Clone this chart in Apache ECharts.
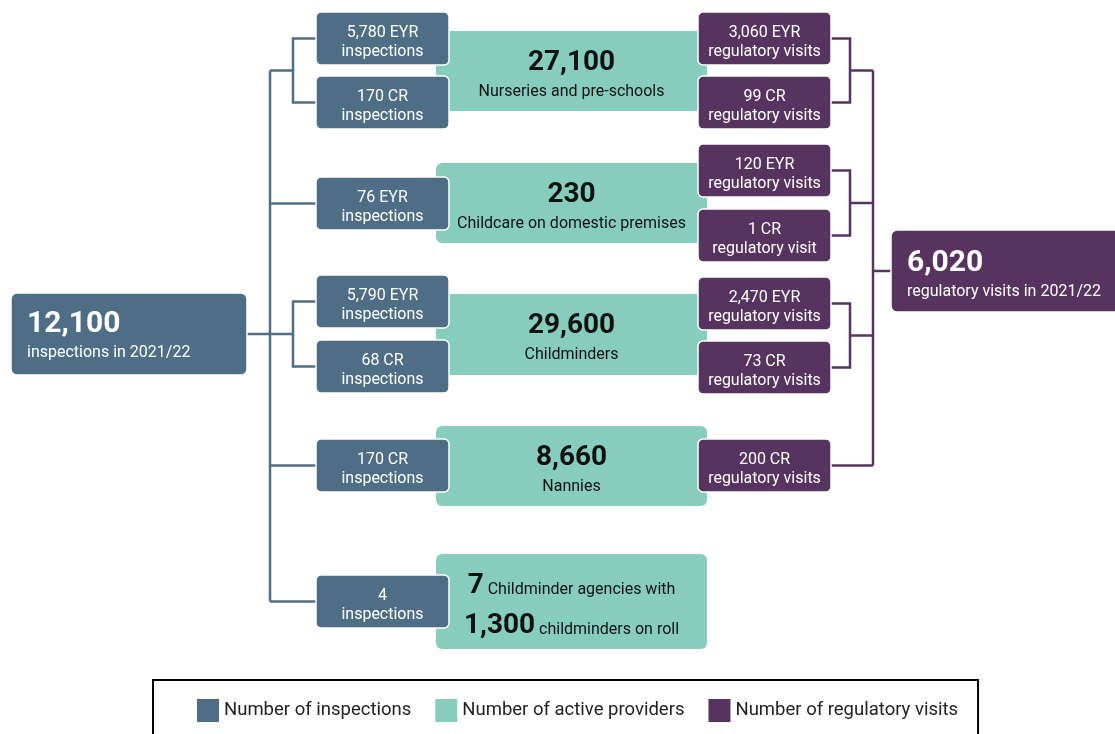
<!DOCTYPE html>
<html>
<head>
<meta charset="utf-8">
<script src="https://cdn.jsdelivr.net/npm/echarts@6/dist/echarts.min.js"></script>
<style>
html, body { margin: 0; padding: 0; background: #fff; }
#main { width: 1115px; height: 734px; }
</style>
</head>
<body>
<div id="main"></div>
<script>
// ---------------- data ----------------
var yearLabel = '2021/22';
var totalInspections = 12100;
var totalVisits = 6020;
var providerTypes = ['Nurseries and pre-schools', 'Childcare on domestic premises', 'Childminders', 'Nannies'];
var providerCounts = [27100, 230, 29600, 8660];
var agencyCount = 7;
var agencyChildminders = 1300;
// inspections per provider group (left column)
var inspCounts = [[5780, 170], [76], [5790, 68], [170], [4]];
var inspTypes = [['EYR', 'CR'], ['EYR'], ['EYR', 'CR'], ['CR'], ['']];
// regulatory visits per provider group (right column)
var visitCounts = [[3060, 99], [120, 1], [2470, 73], [200]];
var visitTypes = [['EYR', 'CR'], ['EYR', 'CR'], ['EYR', 'CR'], ['CR']];
var legendNames = ['Number of inspections', 'Number of active providers', 'Number of regulatory visits'];

// ---------------- layout (axis units = pixels of the frame) ----------------
var BLUE = '#4e6e85', GREEN = '#86cdbe', PURPLE = '#57345f';
var colInsp = [316, 449], colProv = [436, 707], colVisit = [698, 831];
var inspTops = [[12, 76], [177], [275, 340], [439], [575]];
var visitTops = [[12, 76], [144, 209], [277, 341], [439]];
var provTops = [31, 163, 294, 426, 554];
var provHeights = [80, 80, 81, 80, 95];
var smallH = 53;
var leftBox = [11, 293, 247, 375];
var rightBox = [891, 230, 1130, 312];
var inspTrunkX = 270, inspBracketX = 293;
var visitBracketX = 850, visitTrunkX = 873;

var fmt = echarts.format.addCommas;

// ---------------- boxes ----------------
function smallBox(col, top, l1, l2) {
	return {
		value: [col[0], top, col[1], top + smallH], r: 5, stroke: 1.5,
		texts: [{ text: l1, dy: 20.5, size: 16 }, { text: l2, dy: 40, size: 16 }]
	};
}

var blueBoxes = [{
	value: leftBox, r: 6, stroke: 1.5,
	texts: [
		{ text: fmt(totalInspections), left: 16, dy: 31, size: 30, weight: 'bold' },
		{ text: 'inspections in ' + yearLabel, left: 16, dy: 60, size: 16 }
	]
}];
inspCounts.forEach(function (grp, g) {
	grp.forEach(function (n, k) {
		var l1 = inspTypes[g][k] ? fmt(n) + ' ' + inspTypes[g][k] : fmt(n);
		blueBoxes.push(smallBox(colInsp, inspTops[g][k], l1, 'inspections'));
	});
});

var purpleBoxes = [{
	value: rightBox, r: 6, stroke: 1.5,
	texts: [
		{ text: fmt(totalVisits), left: 16, dy: 33.5, size: 30, weight: 'bold' },
		{ text: 'regulatory visits in ' + yearLabel, left: 16, dy: 62, size: 16 }
	]
}];
visitCounts.forEach(function (grp, g) {
	grp.forEach(function (n, k) {
		purpleBoxes.push(smallBox(colVisit, visitTops[g][k], fmt(n) + ' ' + visitTypes[g][k],
			n === 1 ? 'regulatory visit' : 'regulatory visits'));
	});
});

var greenBoxes = providerCounts.map(function (n, i) {
	return {
		value: [colProv[0], provTops[i], colProv[1], provTops[i] + provHeights[i]], r: 6,
		texts: [
			{ text: fmt(n), dy: 32, size: 28, weight: 'bold' },
			{ text: providerTypes[i], dy: 61, size: 16 }
		]
	};
});
var agencyRich = {
	b: { fontFamily: 'Roboto', fontSize: 28, fontWeight: 'bold', color: '#111', verticalAlign: 'bottom' },
	s: { fontFamily: 'Roboto', fontSize: 16, color: '#111', verticalAlign: 'bottom', padding: [0, 0, 2, 0] }
};
var last = provTops.length - 1;
greenBoxes.push({
	value: [colProv[0], provTops[last], colProv[1], provTops[last] + provHeights[last]], r: 6,
	texts: [
		{ text: '{b|' + agencyCount + '} {s|Childminder agencies with}', rich: agencyRich, dy: 32, size: 16 },
		{ text: '{b|' + fmt(agencyChildminders) + '} {s|childminders on roll}', rich: agencyRich, dy: 72, size: 16 }
	]
});

// ---------------- connector lines ----------------
function connectors(tops, boxEdgeX, bracketX, trunkX) {
	var out = [], joints = [];
	tops.forEach(function (grp) {
		var mids = grp.map(function (t) { return t + smallH / 2; });
		if (mids.length === 2) {
			out.push([[boxEdgeX, mids[0]], [bracketX, mids[0]], [bracketX, mids[1]], [boxEdgeX, mids[1]]]);
			var jy = (mids[0] + mids[1]) / 2;
			out.push([[trunkX, jy], [bracketX, jy]]);
			joints.push(jy);
		} else {
			out.push([[trunkX, mids[0]], [boxEdgeX, mids[0]]]);
			joints.push(mids[0]);
		}
	});
	out.push([[trunkX, Math.min.apply(null, joints)], [trunkX, Math.max.apply(null, joints)]]);
	return out;
}
var blueLines = connectors(inspTops, colInsp[0], inspBracketX, inspTrunkX);
blueLines.push([[leftBox[2], (leftBox[1] + leftBox[3]) / 2], [inspTrunkX, (leftBox[1] + leftBox[3]) / 2]]);
var purpleLines = connectors(visitTops, colVisit[1], visitBracketX, visitTrunkX);
purpleLines.push([[visitTrunkX, (rightBox[1] + rightBox[3]) / 2], [rightBox[0], (rightBox[1] + rightBox[3]) / 2]]);

// ---------------- chart ----------------
function makeRender(boxes, fill, textColor) {
	return function (params, api) {
		var b = boxes[params.dataIndex];
		var p0 = api.coord([api.value(0), api.value(1)]);
		var p1 = api.coord([api.value(2), api.value(3)]);
		var children = [{
			type: 'rect',
			shape: { x: p0[0], y: p0[1], width: p1[0] - p0[0], height: p1[1] - p0[1], r: b.r },
			style: { fill: fill, stroke: b.stroke ? '#ffffff' : null, lineWidth: b.stroke || 0 }
		}];
		b.texts.forEach(function (t) {
			var isLeft = t.left != null;
			children.push({
				type: 'text',
				style: {
					text: t.text, rich: t.rich,
					x: isLeft ? p0[0] + t.left : (p0[0] + p1[0]) / 2,
					y: p0[1] + t.dy,
					align: isLeft ? 'left' : 'center', textAlign: isLeft ? 'left' : 'center',
					verticalAlign: 'middle', textVerticalAlign: 'middle',
					fontFamily: 'Roboto', fontSize: t.size, fontWeight: t.weight || 'normal',
					fill: textColor
				}
			});
		});
		return { type: 'group', children: children };
	};
}

function lineSeries(list, color) {
	return {
		type: 'lines', coordinateSystem: 'cartesian2d', polyline: true, silent: true, z: 1,
		data: list.map(function (c) { return { coords: c }; }),
		lineStyle: { color: color, width: 2.5, opacity: 1 }
	};
}

var myChart = echarts.init(document.getElementById('main'));
var option = {
	animation: false,
	color: [BLUE, GREEN, PURPLE],
	textStyle: { fontFamily: 'Roboto' },
	grid: { left: 0, right: 0, top: 0, bottom: 0, containLabel: false },
	xAxis: { type: 'value', min: 0, max: 1115, show: false },
	yAxis: { type: 'value', min: 0, max: 734, inverse: true, show: false },
	legend: {
		data: legendNames,
		left: 153, top: 680,
		icon: 'rect', itemWidth: 22, itemHeight: 23, itemGap: 24,
		padding: [19, 20, 17, 44],
		borderColor: '#000', borderWidth: 2,
		selectedMode: false,
		textStyle: { fontFamily: 'Roboto', fontSize: 18.5, color: '#222' }
	},
	series: [
		{
			name: legendNames[0], type: 'custom', z: 3,
			itemStyle: { color: BLUE },
			renderItem: makeRender(blueBoxes, BLUE, '#ffffff'),
			data: blueBoxes.map(function (b) { return b.value; })
		},
		{
			name: legendNames[1], type: 'custom', z: 2,
			itemStyle: { color: GREEN },
			renderItem: makeRender(greenBoxes, GREEN, '#111111'),
			data: greenBoxes.map(function (b) { return b.value; })
		},
		{
			name: legendNames[2], type: 'custom', z: 3,
			itemStyle: { color: PURPLE },
			renderItem: makeRender(purpleBoxes, PURPLE, '#ffffff'),
			data: purpleBoxes.map(function (b) { return b.value; })
		},
		lineSeries(blueLines, BLUE),
		lineSeries(purpleLines, PURPLE)
	]
};
myChart.setOption(option);
</script>
</body>
</html>
